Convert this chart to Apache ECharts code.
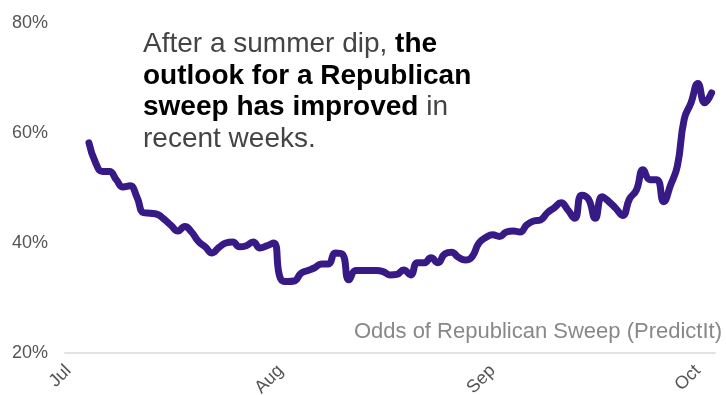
<!DOCTYPE html>
<html>
<head>
<meta charset="utf-8">
<script src="https://cdn.jsdelivr.net/npm/echarts@6/dist/echarts.min.js"></script>
<style>
  html, body { margin: 0; padding: 0; background: #fff; }
  #chart { width: 726px; height: 395px; }
</style>
</head>
<body>
<div id="chart"></div>
<script>
// axis runs Jul 1 .. Oct 3 (one category per day), data begins Jul 4
var startDate = '2022-07-01';
var dayCount = 95;
var monthLabels = ['Jul', 'Aug', 'Sep', 'Oct'];
var yTicks = [20, 40, 60, 80];

// PredictIt odds of a Republican sweep, daily from Jul 4 to Oct 3 (%)
var sweepOdds = [
  58.2, 54.5, 53, 53, 51.5, 50.2, 50.4, 48.4,           // Jul 4 - 11
  45.5, 45.4, 45.2, 44.3, 43.2, 42.2, 43, 42,           // Jul 12 - 19
  40.3, 39.3, 38.2, 39.2, 40, 40.2, 39.3, 39.5,         // Jul 20 - 27
  40.2, 39.1, 39.5, 40, 33.5, 33, 33.1, 34.5,           // Jul 28 - Aug 4
  35, 35.5, 36.2, 36.2, 38.2, 38, 33.3, 35,             // Aug 5 - 12
  35, 35, 35, 34.8, 34.2, 34.3, 35.1, 34.2,             // Aug 13 - 20
  36.4, 36.4, 37.3, 36.4, 38, 38.3, 37.4, 36.9,         // Aug 21 - 28
  37.5, 40, 41, 41.5, 41.2, 42, 42.2, 42,               // Aug 29 - Sep 5
  43.3, 44, 44.2, 45.5, 46.4, 47.3, 46, 44.5,           // Sep 6 - 13
  48.7, 48, 44.5, 48.4, 47.5, 46.3, 45, 48,             // Sep 14 - 21
  49.6, 53.3, 51.5, 51.5, 47.5, 50.5, 54, 62.5,         // Sep 22 - 29
  65.5, 69, 65.5, 67.3                                  // Sep 30 - Oct 3
];

var days = [];
var d0 = new Date(startDate + 'T00:00:00Z');
for (var i = 0; i < dayCount; i++) {
  var d = new Date(d0.getTime() + i * 86400000);
  days.push(d.toISOString().slice(0, 10));
}
var padDays = dayCount - sweepOdds.length;
var lineData = [];
for (var j = 0; j < dayCount; j++) {
  lineData.push(j < padDays ? null : sweepOdds[j - padDays]);
}

var font = 'Liberation Sans, Arial, sans-serif';
var chart = echarts.init(document.getElementById('chart'));
chart.setOption({
  animation: false,
  grid: { left: 65, right: 11, top: 23, bottom: 42, outerBoundsMode: 'none', containLabel: false },
  xAxis: {
    type: 'category',
    data: days,
    boundaryGap: true,
    axisLine: { lineStyle: { color: '#e2e2e2', width: 2 } },
    axisTick: { show: false },
    splitLine: { show: false },
    axisLabel: {
      rotate: 45,
      margin: 15,
      color: '#555',
      fontSize: 18,
      fontFamily: font,
      interval: function (idx, val) { return val.slice(8) === '01'; },
      formatter: function (val) {
        return monthLabels[parseInt(val.slice(5, 7), 10) - 7];
      }
    }
  },
  yAxis: {
    type: 'value',
    min: yTicks[0],
    max: yTicks[yTicks.length - 1],
    interval: 20,
    axisLine: { show: false },
    axisTick: { show: false },
    splitLine: { show: false },
    axisLabel: {
      margin: 17,
      color: '#555',
      fontSize: 18,
      fontFamily: font,
      formatter: '{value}%'
    }
  },
  series: [{
    type: 'line',
    data: lineData,
    smooth: 0.5,
    showSymbol: false,
    lineStyle: { color: '#381a87', width: 7, cap: 'round', join: 'round' }
  }],
  graphic: [
    {
      type: 'text',
      left: 143,
      top: 29,
      style: {
        text: 'After a summer dip, {b|the}\n{b|outlook for a Republican}\n{b|sweep has improved} in\nrecent weeks.',
        fontFamily: font,
        fontSize: 28,
        lineHeight: 31.5,
        fill: '#444',
        rich: {
          b: { fontWeight: 'bold', fill: '#000', color: '#000', fontSize: 28, lineHeight: 31.5,
               fontFamily: font }
        }
      }
    },
    {
      type: 'text',
      right: 4,
      top: 321,
      style: {
        text: 'Odds of Republican Sweep (PredictIt)',
        fontFamily: font,
        fontSize: 22,
        fill: '#888'
      }
    }
  ]
});
</script>
</body>
</html>
